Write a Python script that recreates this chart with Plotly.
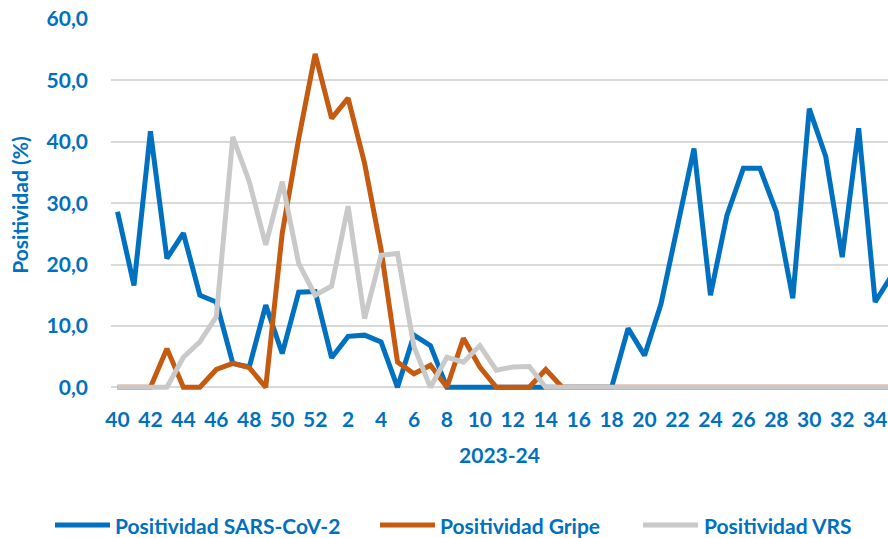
import plotly.graph_objects as go

weeks = [40, 41, 42, 43, 44, 45, 46, 47, 48, 49, 50, 51, 52] + list(range(1, 36))

sars = [28.6, 16.6, 41.7, 21.0, 25.1, 15.0, 13.9, 3.9, 3.3, 13.4, 5.5, 15.5, 15.6,
        4.8, 8.3, 8.5, 7.4, 0.0, 8.5, 6.8, 0.0,
        0.0, 0.0, 0.0, 0.0, 0.0, 0.0, 0.0, 0.0, 0.0, 0.0,
        9.6, 5.2, 13.6, 26.1, 38.9, 15.0, 28.0, 35.7, 35.7, 28.6, 14.5, 45.4, 37.6,
        21.2, 42.2, 13.9, 18.2]

gripe = [0.0, 0.0, 0.0, 6.3, 0.0, 0.0, 2.9, 3.9, 3.2, 0.0, 25.1, 40.5, 54.3,
         43.8, 47.1, 36.5, 22.5, 4.1, 2.2, 3.6, 0.0, 8.0, 3.3, 0.0, 0.0, 0.0, 2.9, 0.0,
         0.0, 0.0, 0.0, 0.0, 0.0, 0.0, 0.0, 0.0, 0.0, 0.0, 0.0, 0.0, 0.0, 0.0, 0.0,
         0.0, 0.0, 0.0, 0.0, 0.0]

vrs = [0.0, 0.0, 0.0, 0.0, 4.9, 7.4, 11.5, 40.8, 33.5, 23.2, 33.5, 20.2, 15.0,
       16.5, 29.5, 11.2, 21.5, 21.8, 6.6, 0.0, 4.9, 4.1, 6.8, 2.8, 3.3, 3.4, 0.0,
       0.0, 0.0, 0.0, 0.0, 0.0, 0.0, 0.0, 0.0, 0.0, 0.0, 0.0, 0.0, 0.0, 0.0, 0.0,
       0.0, 0.0, 0.0, 0.0, 0.0, 0.0]

series_names = ["Positividad SARS-CoV-2", "Positividad Gripe", "Positividad VRS"]
series_colors = ["#0070C0", "#C55A11", "#C9C9C9"]

x_idx = list(range(len(weeks)))
tick_idx = x_idx[::2]
tick_text = [str(w) for w in weeks[::2]]

BLUE = "#0070C0"
FONT = "Lato, 'Open Sans', sans-serif"
FS = 21

W, H = 888, 538
ML, MR, MT, MB = 111, 0, 19, 147
PW, PH = W - ML - MR, H - MT - MB


def px_x(p):
    return (p - ML) / PW


def px_y(p):
    return (H - MB - p) / PH


fig = go.Figure()
for name, vals, col in zip(series_names, [sars, gripe, vrs], series_colors):
    fig.add_trace(go.Scatter(
        x=x_idx, y=vals, mode="lines", name=name,
        line=dict(color=col, width=5, shape="linear"),
        hoverinfo="skip", showlegend=False,
    ))

# custom legend (longer key lines, as in the reference)
legend_keys = [(55, 110, 114), (380, 435, 439), (643, 698, 703)]
leg_y = px_y(525)
shapes = []
annotations = []
for (x0, x1, xt), name, col in zip(legend_keys, series_names, series_colors):
    shapes.append(dict(type="line", xref="paper", yref="paper",
                       x0=px_x(x0), x1=px_x(x1), y0=leg_y, y1=leg_y,
                       line=dict(color=col, width=5)))
    annotations.append(dict(text=name, xref="paper", yref="paper",
                            x=px_x(xt), y=leg_y, xanchor="left", yanchor="middle",
                            showarrow=False, borderpad=0,
                            font=dict(family=FONT, size=FS, color=BLUE, weight="bold")))

fig.update_layout(
    width=W, height=H,
    margin=dict(l=ML, r=MR, t=MT, b=MB, autoexpand=False),
    paper_bgcolor="white", plot_bgcolor="white",
    separators=",.",
    font=dict(family=FONT, size=FS, color=BLUE),
    showlegend=False,
    shapes=shapes,
    annotations=annotations,
    xaxis=dict(
        range=[-0.395, 46.78],
        tickmode="array", tickvals=tick_idx, ticktext=tick_text,
        showgrid=False, zeroline=False, showline=False, ticks="",
        ticklabelstandoff=14,
        tickfont=dict(family=FONT, size=FS, color=BLUE, weight="bold"),
        title=dict(text="2023-24", font=dict(family=FONT, size=FS, color=BLUE, weight="bold"), standoff=18),
        automargin=False,
        fixedrange=True,
    ),
    yaxis=dict(
        range=[-0.6, 60],
        tickmode="array", tickvals=[0, 10, 20, 30, 40, 50, 60],
        tickformat=".1f",
        showgrid=True, gridcolor="#D9D9D9", gridwidth=1.5,
        zeroline=False, showline=False, ticks="",
        ticklabelstandoff=22,
        tickfont=dict(family=FONT, size=FS, color=BLUE, weight="bold"),
        title=dict(text="Positividad (%)", font=dict(family=FONT, size=FS, color=BLUE, weight="bold"), standoff=12),
        automargin=False,
        fixedrange=True,
    ),
)

fig.write_html("out.html", config={"displayModeBar": False},
               post_script="document.body.style.margin='0';")
